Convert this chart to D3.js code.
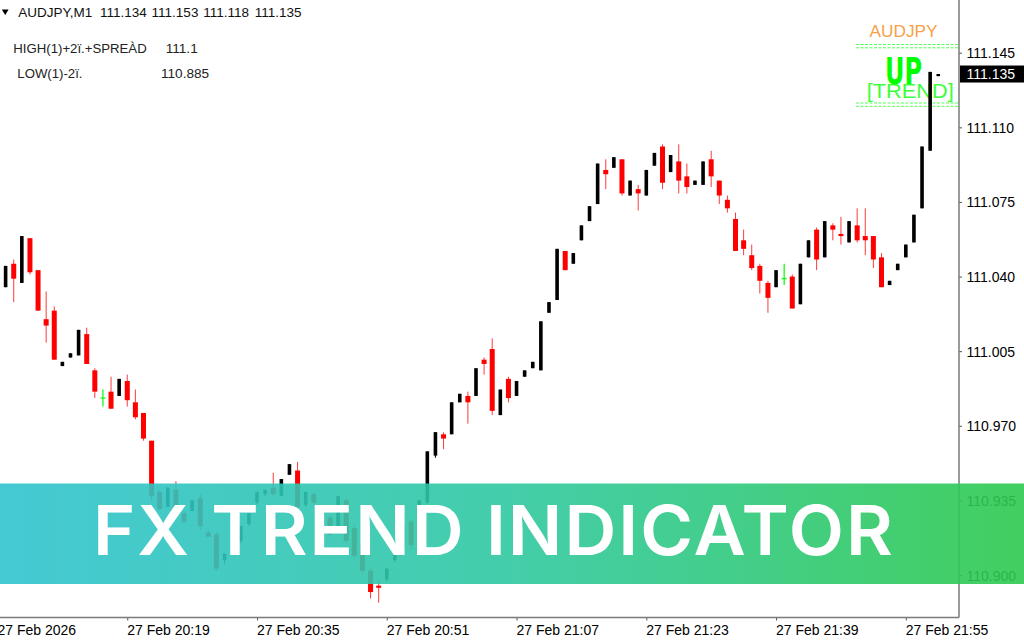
<!DOCTYPE html>
<html><head><meta charset="utf-8">
<script src="https://cdn.jsdelivr.net/npm/d3@7"></script>
<style>
html,body{margin:0;padding:0;background:#fff;overflow:hidden;}
svg{display:block;}
</style></head><body>
<svg id="chart" width="1024" height="640"></svg>
<script>
// ---- data (one-minute AUDJPY candles, 20:04 .. 21:59) ----
const firstBar = "20:04";
const opens = [111.035,111.046,111.037,111.058,111.043,111.020,111.024,110.998,111.002,111.003,
111.013,110.996,110.983,110.986,110.984,110.991,110.981,110.976,110.963,110.939,
110.932,110.940,110.929,110.930,110.936,110.920,110.919,110.907,110.913,110.916,
110.924,110.934,110.938,110.941,110.937,110.947,110.949,110.933,110.938,110.930,
110.927,110.923,110.935,110.922,110.914,110.902,110.895,110.898,110.907,110.912,
110.925,110.924,110.934,110.956,110.966,110.966,110.981,110.984,110.984,111.001,
111.006,110.975,110.992,110.984,110.993,110.997,110.996,111.023,111.029,111.052,
111.046,111.057,111.066,111.074,111.090,111.091,111.095,111.078,111.081,111.078,
111.092,111.101,111.089,111.094,111.087,111.083,111.083,111.095,111.085,111.076,
111.067,111.057,111.050,111.045,111.037,111.035,111.039,111.040,111.027,111.049,
111.062,111.049,111.064,111.060,111.056,111.064,111.059,111.059,111.049,111.036,
111.043,111.049,111.056,111.072,111.099,111.134];
const highs = [111.045,111.048,111.059,111.058,111.043,111.033,111.026,111.000,111.004,111.015,
111.016,110.997,110.987,110.993,110.992,110.994,110.987,110.976,110.963,110.940,
110.941,110.944,110.930,110.935,110.938,110.921,110.920,110.910,110.918,110.923,
110.929,110.939,110.940,110.948,110.945,110.952,110.953,110.939,110.939,110.931,
110.928,110.937,110.936,110.923,110.915,110.903,110.897,110.903,110.913,110.924,
110.926,110.935,110.958,110.967,110.967,110.981,110.985,110.986,110.997,111.002,
111.011,110.987,110.993,110.991,110.996,111.000,111.019,111.028,111.053,111.052,
111.051,111.064,111.073,111.093,111.095,111.096,111.095,111.085,111.083,111.090,
111.098,111.102,111.097,111.102,111.093,111.085,111.094,111.099,111.085,111.078,
111.070,111.062,111.055,111.046,111.038,111.043,111.046,111.041,111.046,111.057,
111.063,111.066,111.065,111.068,111.066,111.072,111.072,111.059,111.051,111.038,
111.046,111.055,111.069,111.101,111.136,111.135];
const lows = [111.035,111.028,111.037,111.041,111.024,111.009,111.001,110.998,111.002,111.003,
110.999,110.983,110.979,110.978,110.984,110.979,110.973,110.963,110.935,110.930,
110.932,110.926,110.924,110.930,110.921,110.918,110.902,110.905,110.912,110.915,
110.923,110.933,110.937,110.937,110.937,110.947,110.931,110.932,110.933,110.922,
110.918,110.922,110.915,110.908,110.901,110.889,110.887,110.897,110.906,110.911,
110.912,110.923,110.933,110.955,110.959,110.966,110.981,110.971,110.984,110.994,
110.975,110.975,110.981,110.984,110.993,110.997,110.996,111.023,111.029,111.043,
111.046,111.057,111.066,111.074,111.081,111.091,111.078,111.078,111.071,111.078,
111.092,111.081,111.089,111.079,111.079,111.083,111.083,111.082,111.074,111.070,
111.052,111.050,111.043,111.032,111.023,111.035,111.036,111.025,111.027,111.049,
111.043,111.049,111.057,111.055,111.056,111.056,111.050,111.044,111.035,111.036,
111.043,111.049,111.056,111.072,111.099,111.134];
const closes = [111.045,111.039,111.059,111.042,111.024,111.017,111.001,111.000,111.004,111.015,
110.999,110.986,110.983,110.978,110.992,110.982,110.974,110.964,110.937,110.931,
110.941,110.930,110.925,110.935,110.923,110.918,110.903,110.910,110.918,110.923,
110.929,110.939,110.940,110.938,110.945,110.952,110.932,110.939,110.934,110.923,
110.919,110.937,110.916,110.909,110.902,110.892,110.894,110.903,110.913,110.924,
110.914,110.935,110.958,110.967,110.964,110.981,110.985,110.981,110.997,110.999,
110.977,110.987,110.983,110.991,110.996,111.000,111.019,111.028,111.053,111.043,
111.051,111.064,111.073,111.093,111.088,111.096,111.079,111.085,111.079,111.090,
111.098,111.084,111.097,111.085,111.082,111.085,111.094,111.087,111.078,111.072,
111.052,111.053,111.044,111.038,111.030,111.043,111.039,111.025,111.046,111.057,
111.048,111.066,111.062,111.059,111.066,111.057,111.057,111.048,111.035,111.038,
111.046,111.055,111.069,111.101,111.136,111.135];

const yTickValues = [110.900,110.935,110.970,111.005,111.040,111.075,111.110,111.145];
const xTickTimes  = ["20:03","20:19","20:35","20:51","21:07","21:23","21:39","21:55"];
const xTickLabels = ["27 Feb 2026","27 Feb 20:19","27 Feb 20:35","27 Feb 20:51","27 Feb 21:07","27 Feb 21:23","27 Feb 21:39","27 Feb 21:55"];
const headerSymbol = "AUDJPY,M1";
const headerValues = ["111.134","111.153","111.118","111.135"];
const levelNames  = ["HIGH(1)+2ï.+SPREÀD","LOW(1)-2ï."];
const levelValues = ["111.1","110.885"];
const currentPrice = 111.135;
const signalSymbol = "AUDJPY";
const signalDirection = "UP";
const signalWord = "[TREND]";
const bannerTitle = "FX TREND INDICATOR";

// ---- scales ----
const parse = d3.timeParse("%H:%M");
const t0 = parse(firstBar);
const times = opens.map((_, i) => d3.timeMinute.offset(t0, i));
const candles = times.map((t, i) => ({t, o: opens[i], h: highs[i], l: lows[i], c: closes[i]}));

const svg = d3.select("#chart");
const W = 1024, H = 640, plotRight = 959, plotBottom = 617.5;
const x = d3.scaleTime().domain([parse("20:03"), parse("21:58")]).range([-2.5, 930.15]);
const y = d3.scaleLinear().domain([110.900, 111.145]).range([575, 52.7]);

svg.append("rect").attr("width", W).attr("height", H).attr("fill", "#fff");

// ---- top-right signal block ----
const sig = svg.append("g");
sig.append("text").attr("x", 869.5).attr("y", 37.3).text(signalSymbol)
  .attr("font-family", "Liberation Sans, Arial, sans-serif").attr("font-size", 15.8)
  .attr("textLength", 68).attr("lengthAdjust", "spacingAndGlyphs").attr("fill", "#f7a148");
[44.5, 47.8, 103, 106.3].forEach(yy => {
  sig.append("line").attr("x1", 856).attr("x2", 958).attr("y1", yy).attr("y2", yy)
    .attr("stroke", "#55ff55").attr("stroke-width", 1).attr("stroke-dasharray", "3,1.5");
});
sig.append("text").attr("x", 866.7).attr("y", 98.3).text(signalWord)
  .attr("font-family", "Liberation Sans, Arial, sans-serif").attr("font-size", 21)
  .attr("textLength", 87).attr("lengthAdjust", "spacingAndGlyphs").attr("fill", "#3cff3c");
sig.append("text").attr("x", 885).attr("y", 83.5).text(signalDirection)
  .attr("font-family", "Liberation Sans Narrow, DejaVu Sans Condensed, Arial, sans-serif")
  .attr("font-weight", "bold").attr("font-size", 37)
  .attr("textLength", 37).attr("lengthAdjust", "spacingAndGlyphs").attr("fill", "#00ff00");

// ---- candles ----
const cg = svg.append("g");
const colorOf = d => d.c > d.o ? "#000" : (d.c < d.o ? "#ff0000" : "#00ff00");
const sel = cg.selectAll("g.c").data(candles).join("g").attr("class", "c");
sel.append("line")
  .attr("x1", d => x(d.t)).attr("x2", d => x(d.t))
  .attr("y1", d => y(d.h)).attr("y2", d => y(d.l))
  .attr("stroke", d => d.c < d.o ? "#ff3a3a" : colorOf(d)).attr("stroke-width", d => d.c === d.o ? 1.2 : 1);
sel.append("rect")
  .attr("x", d => x(d.t) - (d.c < d.o ? 2.5 : (d.c > d.o ? 1.8 : 2.5)))
  .attr("width", d => d.c < d.o ? 5 : (d.c > d.o ? 3.6 : 5))
  .attr("y", d => d.c === d.o ? y(d.o) - 0.6 : Math.min(y(d.o), y(d.c)))
  .attr("height", d => d.c === d.o ? 1.2 : Math.max(1, Math.abs(y(d.o) - y(d.c))))
  .attr("fill", colorOf);

// ---- header texts ----
const hf = "Liberation Sans, Arial, sans-serif";
svg.append("path").attr("d", "M1.8,9.5 L8.6,9.5 L5.2,15 Z").attr("fill", "#000");
svg.append("text").attr("x", 18.3).attr("y", 17.3).text(headerSymbol)
  .attr("font-family", hf).attr("font-size", 13.5).attr("fill", "#111");
svg.selectAll("text.hv").data(headerValues).join("text").attr("class", "hv")
  .attr("x", (d, i) => 100 + i * 51.6).attr("y", 17.3).text(d => d)
  .attr("font-family", hf).attr("font-size", 13.5).attr("fill", "#111");
const levelX = [13.3, 17.3], levelVX = [165.7, 161], levelY = [53.3, 78.3];
svg.selectAll("text.ln").data(levelNames).join("text").attr("class", "ln")
  .attr("x", (d, i) => levelX[i]).attr("y", (d, i) => levelY[i]).text(d => d)
  .attr("font-family", hf).attr("font-size", 13.2).attr("fill", "#222");
svg.selectAll("text.lv").data(levelValues).join("text").attr("class", "lv")
  .attr("x", (d, i) => levelVX[i]).attr("y", (d, i) => levelY[i]).text(d => d)
  .attr("font-family", hf).attr("font-size", 13.6).attr("fill", "#222");

// ---- axes ----
const yAxis = d3.axisRight(y).tickValues(yTickValues).tickFormat(d3.format(".3f"))
  .tickSizeInner(3).tickSizeOuter(0).tickPadding(4);
const ya = svg.append("g").attr("transform", `translate(${plotRight},0)`).call(yAxis);
ya.select(".domain").remove();
ya.selectAll(".tick line").attr("stroke", "#555");
ya.selectAll(".tick text").attr("font-family", hf).attr("font-size", 14).attr("fill", "#000")
  .attr("dy", null).attr("dominant-baseline", "central").attr("x", 7.5);

const xAxis = d3.axisBottom(x).tickValues(xTickTimes.map(parse))
  .tickFormat((d, i) => xTickLabels[i]).tickSizeInner(3).tickSizeOuter(0).tickPadding(0);
const xa = svg.append("g").attr("transform", `translate(0,${plotBottom})`).call(xAxis);
xa.select(".domain").remove();
xa.selectAll(".tick line").attr("stroke", "#555");
xa.selectAll(".tick text").attr("font-family", hf).attr("font-size", 14).attr("fill", "#000")
  .attr("text-anchor", "start").attr("x", -0.5).attr("dy", null).attr("y", 17.5);

svg.append("line").attr("x1", plotRight).attr("x2", plotRight).attr("y1", 0).attr("y2", plotBottom)
  .attr("stroke", "#7a7a7a").attr("stroke-width", 1.5);
svg.append("line").attr("x1", 0).attr("x2", plotRight).attr("y1", plotBottom).attr("y2", plotBottom)
  .attr("stroke", "#7a7a7a").attr("stroke-width", 1.5);

// current price box
svg.append("rect").attr("x", 960).attr("y", y(currentPrice) - 8.5).attr("width", 64).attr("height", 17).attr("fill", "#000");
svg.append("text").attr("x", 966.5).attr("y", y(currentPrice)).attr("dominant-baseline", "central")
  .text(d3.format(".3f")(currentPrice)).attr("font-family", hf).attr("font-size", 14).attr("fill", "#fff");

// ---- banner ----
const defs = svg.append("defs");
const grad = defs.append("linearGradient").attr("id", "bg").attr("x1", 0).attr("x2", 1).attr("y1", 0).attr("y2", 0);
grad.append("stop").attr("offset", 0).attr("stop-color", "#30c3cf");
grad.append("stop").attr("offset", 0.5).attr("stop-color", "#2fc8a0");
grad.append("stop").attr("offset", 1).attr("stop-color", "#2ec94e");
svg.append("rect").attr("x", 0).attr("y", 483.5).attr("width", W).attr("height", 100.5)
  .attr("fill", "url(#bg)").attr("opacity", 0.9);
svg.append("text").attr("x", 93).attr("y", 555).text(bannerTitle)
  .attr("font-family", "Inter, Lato, sans-serif").attr("font-weight", 600).attr("font-size", 69)
  .attr("letter-spacing", 2)
  .attr("textLength", 802).attr("lengthAdjust", "spacingAndGlyphs").attr("fill", "#fff");
</script>
</body></html>
